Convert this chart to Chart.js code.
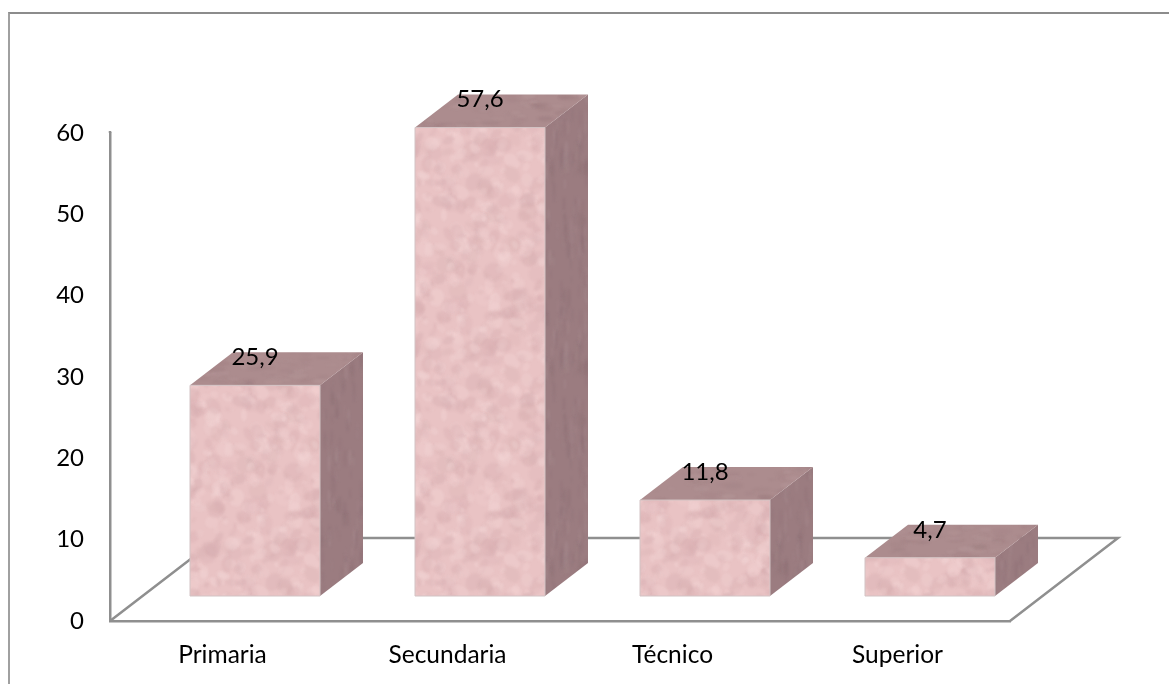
<!DOCTYPE html>
<html lang="es">
<head>
    <meta charset="UTF-8">
    <title>Nivel de estudios</title>
    <script src="https://cdn.jsdelivr.net/npm/chart.js"></script>
    <style>
        html, body { margin: 0; padding: 0; background: #fff; overflow: hidden; }
        #marco { position: absolute; left: 8px; top: 12px; right: 0; bottom: 0; border-left: 2px solid #a0a0a0; border-top: 2px solid #8c8c8c; }
        #grafico { position: absolute; left: 0; top: 0; display: block; }
    </style>
</head>
<body>
    <div id="marco"></div>
    <canvas id="grafico" width="1169" height="684"></canvas>

    <script>
        const categorias = ['Primaria', 'Secundaria', 'Técnico', 'Superior'];
        const valores = [25.9, 57.6, 11.8, 4.7];
        const marcasEje = [0, 10, 20, 30, 40, 50, 60];

        const colorLinea = '#8f8f8f';
        const fuente = 'Lato, "Open Sans", sans-serif';

        // profundidad de los bloques y del piso, en pixeles
        const fondoX = 43, fondoY = 33;
        const pisoX = 108, pisoY = 83;
        // los bloques no arrancan en el borde del piso sino un poco adentro
        const entradaX = 32.5, entradaY = 25;

        // textura jaspeada: manchas claras y oscuras; giro y estiramiento dan la veta
        function crearTextura(base, claro, oscuro, giro, estira) {
            const c = document.createElement('canvas');
            c.width = c.height = 200;
            const g = c.getContext('2d');
            g.fillStyle = base;
            g.fillRect(0, 0, 200, 200);
            let s = 7331;
            const sig = () => (s = (s * 16807) % 2147483647) / 2147483647;
            g.filter = 'blur(1.2px)';
            for (let i = 0; i < 520; i++) {
                const x = sig() * 200, y = sig() * 200, r = 2 + sig() * 8;
                const rot = giro === null ? sig() * 3 : giro;
                const ry = r * (0.5 + sig() * 0.5) / estira;
                g.globalAlpha = 0.12 + sig() * 0.22;
                g.fillStyle = sig() > 0.5 ? claro : oscuro;
                // se repite en los bordes para que la textura empalme
                for (const dx of [-200, 0, 200]) {
                    for (const dy of [-200, 0, 200]) {
                        g.beginPath();
                        g.ellipse(x + dx, y + dy, r, ry, rot, 0, Math.PI * 2);
                        g.fill();
                    }
                }
            }
            return c;
        }

        const ctxGrafico = document.getElementById('grafico').getContext('2d');
        const texFrente = ctxGrafico.createPattern(crearTextura('#e9c3c4', '#f6dada', '#d2a8ab', null, 1), 'repeat');
        const texArriba = ctxGrafico.createPattern(crearTextura('#ac8c8e', '#bb9ea0', '#98787c', 0, 3), 'repeat');
        const texLado = ctxGrafico.createPattern(crearTextura('#9b7c80', '#ab9093', '#876a6f', Math.PI / 2, 4), 'repeat');

        function poligono(ctx, puntos, relleno, borde) {
            ctx.beginPath();
            puntos.forEach((p, i) => i ? ctx.lineTo(p[0], p[1]) : ctx.moveTo(p[0], p[1]));
            ctx.closePath();
            ctx.fillStyle = relleno;
            ctx.fill();
            if (borde) {
                ctx.strokeStyle = borde;
                ctx.lineWidth = 1;
                ctx.stroke();
            }
        }

        const piso = {
            id: 'piso',
            beforeDatasetsDraw(chart) {
                const ctx = chart.ctx, a = chart.chartArea, y0 = chart.scales.y.getPixelForValue(0);
                ctx.save();
                ctx.strokeStyle = colorLinea;
                ctx.lineWidth = 2.5;
                ctx.beginPath();
                ctx.moveTo(a.left, y0);
                ctx.lineTo(a.left + pisoX, y0 - pisoY);
                ctx.lineTo(a.right + pisoX, y0 - pisoY);
                ctx.lineTo(a.right, y0);
                ctx.stroke();
                // el eje vertical sobresale un poco por encima del 60
                ctx.beginPath();
                ctx.moveTo(a.left, a.top - 2);
                ctx.lineTo(a.left, a.top);
                ctx.stroke();
                ctx.restore();
            }
        };

        const bloques = {
            id: 'bloques',
            afterDatasetsDraw(chart) {
                const ctx = chart.ctx;
                const barras = chart.getDatasetMeta(0).data;
                ctx.save();
                barras.forEach((b) => {
                    const x0 = b.x - b.width / 2 + entradaX, x1 = b.x + b.width / 2 + entradaX;
                    const y0 = b.y - entradaY, y1 = b.base - entradaY;
                    poligono(ctx, [[x1, y0], [x1 + fondoX, y0 - fondoY], [x1 + fondoX, y1 - fondoY], [x1, y1]], texLado);
                    poligono(ctx, [[x0, y0], [x0 + fondoX, y0 - fondoY], [x1 + fondoX, y0 - fondoY], [x1, y0]], texArriba);
                    poligono(ctx, [[x0, y0], [x1, y0], [x1, y1], [x0, y1]], texFrente, '#d2c3c4');
                });
                // etiquetas de valor con coma decimal
                ctx.fillStyle = '#000';
                ctx.font = '24px ' + fuente;
                ctx.textAlign = 'center';
                ctx.textBaseline = 'middle';
                barras.forEach((b, i) => {
                    ctx.fillText(valores[i].toFixed(1).replace('.', ','), b.x + entradaX, b.y - entradaY - 28);
                });
                ctx.restore();
            }
        };

        new Chart(ctxGrafico, {
            type: 'bar',
            data: {
                labels: categorias,
                datasets: [{
                    data: valores,
                    backgroundColor: 'transparent',
                    borderWidth: 0,
                    barPercentage: 1,
                    categoryPercentage: 130 / 225
                }]
            },
            options: {
                responsive: false,
                animation: false,
                layout: { padding: { left: 0, top: 133, right: 159, bottom: 0 } },
                plugins: { legend: { display: false }, tooltip: { enabled: false } },
                scales: {
                    x: {
                        grid: { display: false },
                        border: { color: colorLinea, width: 2.5 },
                        ticks: { color: '#000', font: { family: fuente, size: 24.5 }, padding: 11, maxRotation: 0 },
                        afterFit(s) { s.height = 63; }
                    },
                    y: {
                        min: 0,
                        max: 60,
                        afterBuildTicks(s) { s.ticks = marcasEje.map(v => ({ value: v })); },
                        grid: { display: false, drawTicks: false },
                        border: { color: colorLinea, width: 2.5 },
                        ticks: { color: '#000', font: { family: fuente, size: 24 }, padding: 26 },
                        afterFit(s) { s.width = 110; }
                    }
                }
            },
            plugins: [piso, bloques]
        });
    </script>
</body>
</html>
